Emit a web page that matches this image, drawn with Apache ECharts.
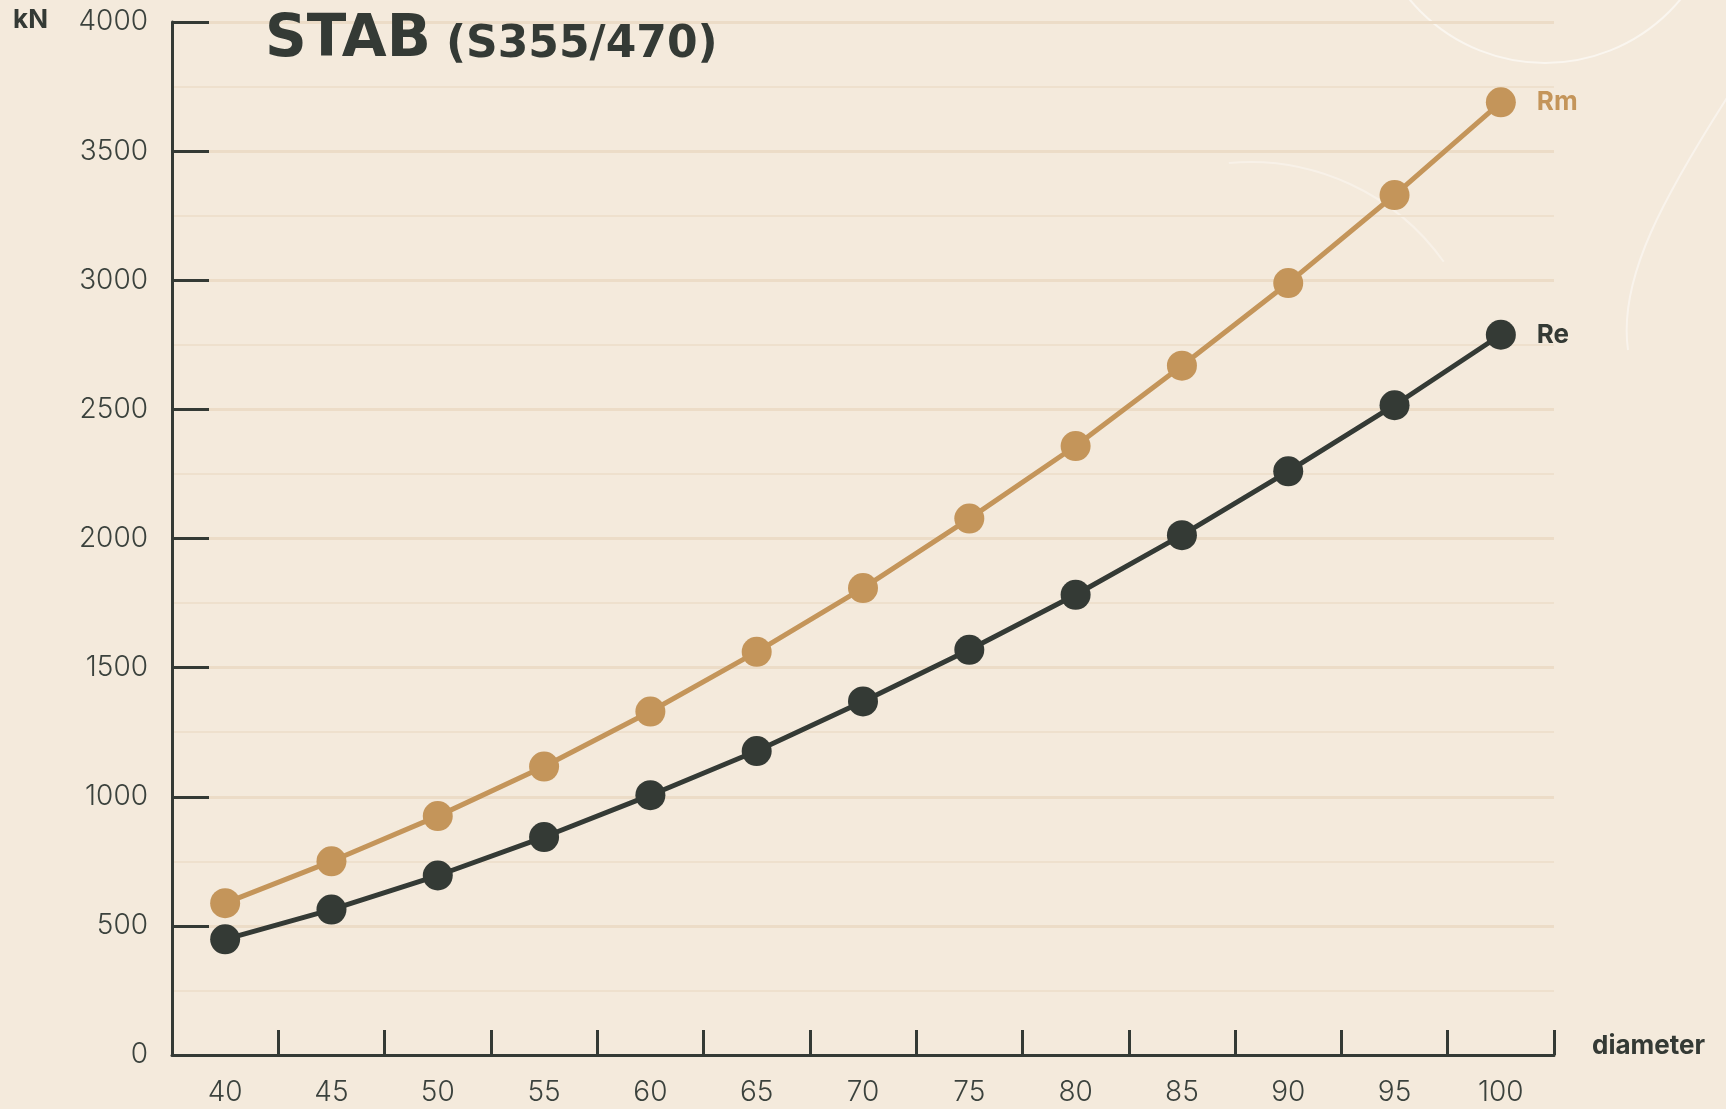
<!DOCTYPE html>
<html>
<head>
<meta charset="utf-8">
<script src="https://cdn.jsdelivr.net/npm/echarts@6/dist/echarts.min.js"></script>
<style>
  html, body { margin: 0; padding: 0; background: #f4eadc; }
  #chart { width: 1726px; height: 1109px; }
</style>
</head>
<body>
<div id="chart"></div>
<script>
const categories = ['40', '45', '50', '55', '60', '65', '70', '75', '80', '85', '90', '95', '100'];
const rmValues = [588, 750, 925, 1117, 1330, 1561, 1808, 2077, 2358, 2669, 2989, 3330, 3689];
const reValues = [448, 563, 695, 844, 1006, 1177, 1369, 1569, 1782, 2013, 2260, 2516, 2789];
const yTicks = [0, 500, 1000, 1500, 2000, 2500, 3000, 3500, 4000];

const dark = '#343a35';
const gold = '#c4955a';

const chart = echarts.init(document.getElementById('chart'));
chart.setOption({
  backgroundColor: '#f4eadc',
  animation: false,
  title: {
    left: 260,
    top: 3,
    text: '{a|STAB} {b|(S355/470)}',
    textStyle: {
      rich: {
        a: { fontFamily: 'DejaVu Sans', fontWeight: 'bold', fontSize: 58, color: dark, lineHeight: 62, verticalAlign: 'bottom' },
        b: { fontFamily: 'DejaVu Sans', fontWeight: 'bold', fontSize: 44, color: dark, lineHeight: 52, verticalAlign: 'bottom', padding: [0, 0, 2, 10] }
      }
    }
  },
  graphic: [
    { type: 'circle', z: -10, shape: { cx: 1545, cy: -113, r: 176 }, style: { fill: 'none', stroke: 'rgba(255,255,255,0.55)', lineWidth: 2 } },
    { type: 'arc', z: -10, shape: { cx: 1250, cy: 400, r: 238, startAngle: -1.66, endAngle: -0.62, clockwise: true }, style: { fill: 'none', stroke: 'rgba(255,255,255,0.35)', lineWidth: 2 } },
    { type: 'bezierCurve', z: -10, shape: { x1: 1745, y1: 70, cpx1: 1660, cpy1: 200, cpx2: 1618, cpy2: 280, x2: 1628, y2: 350 }, style: { fill: 'none', stroke: 'rgba(255,255,255,0.45)', lineWidth: 2 } }
  ],
  grid: { left: 172, right: 172, top: 22, bottom: 54, containLabel: false },
  xAxis: {
    type: 'category',
    data: categories,
    boundaryGap: true,
    name: 'diameter',
    nameLocation: 'end',
    nameGap: 38,
    nameTextStyle: { fontFamily: 'Inter', fontWeight: 'bold', fontSize: 26, color: dark, verticalAlign: 'bottom', lineHeight: 18 },
    axisLine: { show: true, lineStyle: { color: dark, width: 3 } },
    axisTick: { show: true, inside: true, length: 25, lineStyle: { color: dark, width: 3 } },
    axisLabel: { fontFamily: 'Inter', fontWeight: 300, fontSize: 28, color: '#3b423d', margin: 24 },
    splitLine: { show: false }
  },
  yAxis: {
    type: 'value',
    min: 0,
    max: 4000,
    interval: 500,
    name: 'kN',
    nameLocation: 'end',
    nameGap: 2,
    nameTextStyle: { fontFamily: 'Inter', fontWeight: 'bold', fontSize: 26, color: dark, align: 'right', verticalAlign: 'middle', padding: [0, 124, 0, 0] },
    axisLine: { show: true, lineStyle: { color: dark, width: 3 } },
    axisTick: { show: true, inside: true, length: 37, lineStyle: { color: dark, width: 3 } },
    axisLabel: {
      fontFamily: 'Inter', fontWeight: 300, fontSize: 28, color: '#3b423d', margin: 24,
      formatter: v => (yTicks.indexOf(v) >= 0 ? String(v) : '')
    },
    splitLine: { show: true, lineStyle: { color: '#ecdcc7', width: 3 } },
    minorTick: { show: false, splitNumber: 2 },
    minorSplitLine: { show: true, lineStyle: { color: '#eee0cd', width: 2 } }
  },
  series: [
    {
      name: 'Rm',
      type: 'line',
      data: rmValues,
      symbol: 'circle',
      symbolSize: 30,
      lineStyle: { color: gold, width: 5 },
      itemStyle: { color: gold },
      endLabel: { show: true, formatter: 'Rm', distance: 36, fontFamily: 'Inter', fontWeight: 'bold', fontSize: 26, color: gold },
      z: 3
    },
    {
      name: 'Re',
      type: 'line',
      data: reValues,
      symbol: 'circle',
      symbolSize: 30,
      lineStyle: { color: dark, width: 5 },
      itemStyle: { color: dark },
      endLabel: { show: true, formatter: 'Re', distance: 36, fontFamily: 'Inter', fontWeight: 'bold', fontSize: 26, color: dark },
      z: 4
    }
  ]
});
</script>
</body>
</html>
